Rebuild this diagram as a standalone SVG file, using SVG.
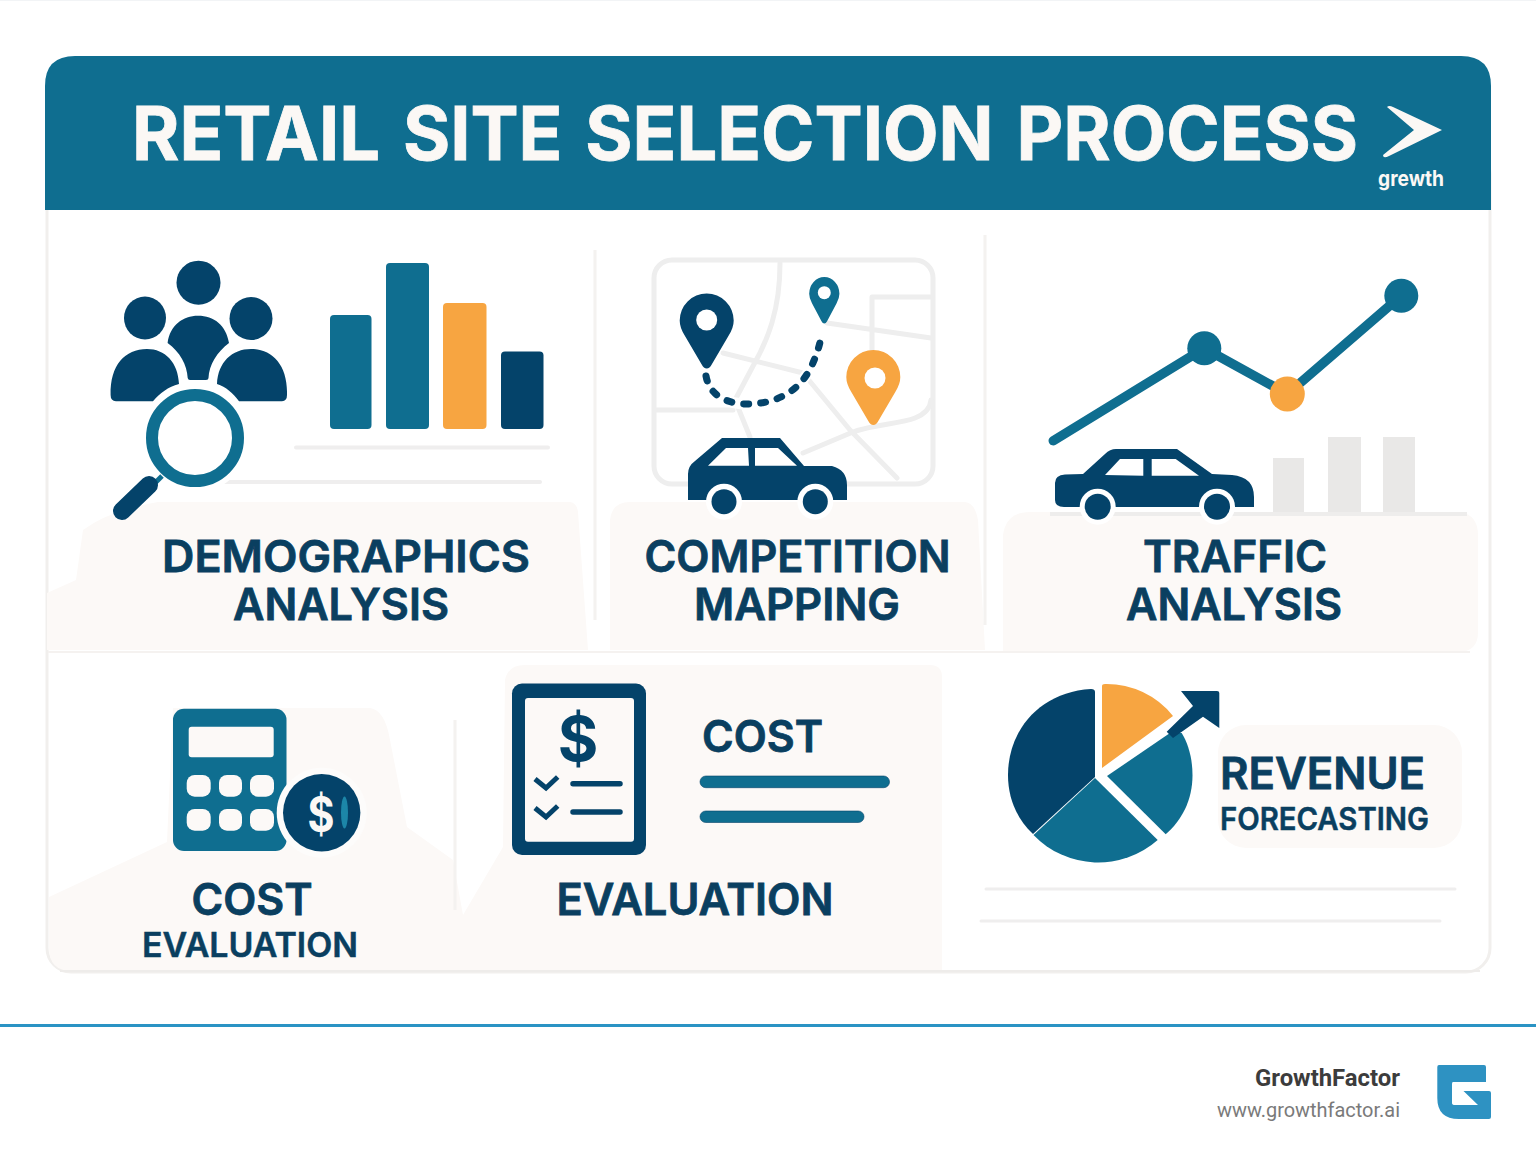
<svg xmlns="http://www.w3.org/2000/svg" width="1536" height="1154" viewBox="0 0 1536 1154">
<style>
.teal{fill:#0F6E90}.dark{fill:#04436A}.org{fill:#F7A541}.beige{fill:#FCF9F7}.wh{fill:#fff}
.road{fill:none;stroke:#EEEEEE;stroke-width:5;stroke-linejoin:round;stroke-linecap:round}
.rule{stroke:#EFEEEE;stroke-width:4;stroke-linecap:round}
.vr{stroke:#F4F2F0;stroke-width:3}
text{font-family:Inter,"Liberation Sans",sans-serif;font-weight:700}
.lab{fill:#0A3F60;font-size:44px;font-weight:600;stroke:#0A3F60;stroke-width:.8}
.sub{fill:#0A3F60;font-size:34px;font-weight:600;stroke:#0A3F60;stroke-width:.5}
</style>
<defs>
<path id="pin" d="M0 1 Q-3 1 -5 -3 L-22 -32 Q-27 -40 -27 -47 A27 27 0 0 1 27 -47 Q27 -40 22 -32 L5 -3 Q3 1 0 1Z"/>
</defs>
<rect width="1536" height="1154" fill="#fff"/>
<rect width="1536" height="1" fill="#F2F4F6"/>

<g id="card">
<rect x="47" y="150" width="1443" height="822" rx="24" fill="#fff" stroke="#F1EFED" stroke-width="3"/>
<path class="beige" d="M47 650 V593 L76 580 L83 530 Q110 510 158 502 H570 Q577 503 578 512 L588 650 Z"/>
<path class="beige" d="M610 650 V520 Q612 502 630 502 H965 Q975 503 978 520 L985 650 Z"/>
<path class="beige" d="M1003 650 V535 Q1006 512 1030 512 H1460 Q1478 515 1478 535 V632 Q1478 652 1458 652 H1003 Z"/>
<path d="M48 652 H1470" stroke="#F5F2F0" stroke-width="2"/>
<path class="beige" d="M49 897 L167 842 L173 708 H370 Q385 710 390 740 L407 827 L453 860 L463 915 L503 847 L505 680 Q508 665 525 665 H930 Q942 665 942 677 V971 H72 Q49 971 49 948 Z"/>
<rect class="beige" x="1218" y="725" width="244" height="123" rx="28"/>
<path class="vr" d="M595 250 V620 M985 235 V625 M455 720 V910" fill="none"/>
<path d="M60 971 H1480" stroke="#EEECEA" stroke-width="2" fill="none"/>
</g>

<g id="header">
<path class="teal" d="M45 210 V86 Q45 56 75 56 H1461 Q1491 56 1491 86 V210 Z"/>
<text id="title" x="132" y="160" font-size="74" fill="#FBF8F5" word-spacing="6" textLength="1226" lengthAdjust="spacingAndGlyphs" stroke="#FBF8F5" stroke-width=".8">RETAIL SITE SELECTION PROCESS</text>
<path fill="#FBF8F5" d="M1387 107 Q1389 105 1393 107 L1442 130 L1389 156 Q1383 159 1383 155 L1414 130 Z"/>
<text x="1378" y="186" font-size="21.5" fill="#FBF8F5" font-weight="600" textLength="66" lengthAdjust="spacingAndGlyphs">grewth</text>
</g>

<g id="demographics">
<ellipse class="dark" cx="198.5" cy="282.7" rx="22" ry="22"/>
<ellipse class="dark" cx="145" cy="318" rx="21" ry="21.5"/>
<ellipse class="dark" cx="251" cy="318.5" rx="21.5" ry="21.5"/>
<path class="dark" d="M187.7 378 Q188 380 190 380 H206 Q208.5 380 208.5 378 C209 365 217 352 229 343 C226 325 214 315.7 198 315.7 C183 315.7 170 325 167.6 343 C180 352 187 365 187.7 378Z"/>
<path class="dark" d="M110.6 395 C110 365 125 349 147 349 C165 349 178 362 179 384 C168 387 160 393 153 401.3 L116 401.3 Q110.6 401 110.6 395Z"/>
<path class="dark" d="M287 395 C288 365 272 349 251 349 C232 349 218 362 217 384 C226 387 233 393 239 401.3 L282 401.3 Q287 401 287 395Z"/>
<rect class="teal" x="330" y="315" width="41.5" height="114" rx="4"/>
<rect class="teal" x="386" y="263" width="43" height="166" rx="4"/>
<rect class="org" x="443" y="303" width="43.5" height="126" rx="4"/>
<rect class="dark" x="501" y="351.5" width="42.5" height="77.5" rx="4"/>
<path class="rule" d="M296 447.5 H548 M225 482 H540"/>
<circle cx="195" cy="438" r="43" fill="none" stroke="#fff" stroke-width="23"/>
<circle cx="195" cy="438" r="43" fill="#fff" stroke="#0F6E90" stroke-width="12"/>
<path d="M162 476 L152 486" stroke="#0F6E90" stroke-width="5" fill="none"/>
<path d="M149 485 L122 511" stroke="#04436A" stroke-width="18" stroke-linecap="round" fill="none"/>
<text class="lab" x="346" y="572" text-anchor="middle" textLength="368" lengthAdjust="spacingAndGlyphs">DEMOGRAPHICS</text>
<text class="lab" x="341" y="620" text-anchor="middle" textLength="216" lengthAdjust="spacingAndGlyphs">ANALYSIS</text>
</g>

<g id="competition">
<rect class="road" x="654" y="260" width="279" height="224" rx="18"/>
<path class="road" d="M780 263 C780 310 768 340 752 368 L735 400 L750 437 M657 410 H733 M723 353 L803 373 L850 430 L897 478 M803 453 L853 432 C875 424 900 424 915 418 Q930 412 931 400 M827 323 L931 338 M872 350 V297 H931"/>
<use href="#pin" class="dark" transform="translate(706.7 367.5)"/>
<circle cx="706.7" cy="320" r="10.5" fill="#fff"/>
<use href="#pin" class="teal" transform="translate(824.3 323) scale(.56 .62)"/>
<circle cx="824.3" cy="292.7" r="6.5" fill="#fff"/>
<use href="#pin" class="org" transform="translate(873.3 424)"/>
<circle cx="875" cy="378" r="10.5" fill="#fff"/>
<path d="M706 377 C710 398 730 404 748 404 C775 404 800 392 812 365 C818 352 820 343 822 333" fill="none" stroke="#fff" stroke-width="11"/>
<path d="M706 376 C710 398 730 404 748 404 C775 404 800 392 812 365 C818 352 820 343 822 333" fill="none" stroke="#04436A" stroke-width="7" stroke-linecap="round" stroke-dasharray="5 12"/>
<path class="dark" d="M688 500 V474 Q688 466 695 461 L722 438 H780 L804 466 H832 Q847 470 847 485 V500 Z"/>
<path fill="#fff" d="M708 465.7 L726 448 H748 L749 465.7Z M755 448 H778 L797 465.7 H755Z"/>
<circle cx="724" cy="501.7" r="18" fill="#fff"/><circle class="dark" cx="724" cy="501.7" r="12.5"/>
<circle cx="815.3" cy="501.7" r="18" fill="#fff"/><circle class="dark" cx="815.3" cy="501.7" r="12.5"/>
<text class="lab" x="797.5" y="572" text-anchor="middle" textLength="306" lengthAdjust="spacingAndGlyphs">COMPETITION</text>
<text class="lab" x="797" y="620" text-anchor="middle" textLength="206" lengthAdjust="spacingAndGlyphs">MAPPING</text>
</g>

<g id="traffic">
<path d="M1053.3 440.7 L1204.3 348.3 L1287.3 394 L1401.3 295.7" fill="none" stroke="#0F6E90" stroke-width="9.5" stroke-linecap="round"/>
<circle class="teal" cx="1204.3" cy="348.3" r="17"/>
<circle class="org" cx="1287.3" cy="394" r="17.5"/>
<circle class="teal" cx="1401.3" cy="295.7" r="17"/>
<g fill="#E9E8E7"><rect x="1273" y="458" width="31" height="54"/><rect x="1328" y="437" width="33" height="75"/><rect x="1383" y="437" width="32" height="75"/></g>
<path d="M1050 514 H1467" stroke="#EEEDEC" stroke-width="4"/>
<path class="dark" d="M1055 500 V483 Q1055 475 1065 474.5 L1083 474 L1105 454 Q1110 449 1116 449 H1177 L1212 474 L1232 475 Q1254 477 1254 497 V507 H1064 Q1055 507 1055 500Z"/>
<path fill="#fff" d="M1105 475 L1120 459 H1143.3 V475.7Z M1151.7 459 H1175.7 L1199 475.7 H1151.7Z"/>
<circle cx="1097.7" cy="506.7" r="18" fill="#fff"/><circle class="dark" cx="1097.7" cy="506.7" r="13"/>
<circle cx="1217" cy="506.7" r="18" fill="#fff"/><circle class="dark" cx="1217" cy="506.7" r="13"/>
<text class="lab" x="1235" y="572" text-anchor="middle" textLength="184" lengthAdjust="spacingAndGlyphs">TRAFFIC</text>
<text class="lab" x="1234" y="620" text-anchor="middle" textLength="216" lengthAdjust="spacingAndGlyphs">ANALYSIS</text>
</g>

<g id="cost">
<rect class="teal" x="173" y="708.7" width="113.5" height="142.3" rx="11"/>
<g class="beige">
<rect x="188.7" y="726.7" width="85" height="30.6" rx="3"/>
<rect x="186.7" y="775" width="24" height="21.7" rx="8"/><rect x="219" y="775" width="23" height="21.7" rx="8"/><rect x="250" y="775" width="24" height="21.7" rx="8"/>
<rect x="186.7" y="809" width="24" height="21.7" rx="8"/><rect x="219" y="809" width="23" height="21.7" rx="8"/><rect x="250" y="809" width="24" height="21.7" rx="8"/>
</g>
<circle cx="321.7" cy="812.7" r="45" fill="#FDFCFB"/>
<circle class="dark" cx="321.7" cy="812.7" r="38.7"/>
<text x="321" y="832" font-size="50" fill="#FBF8F5" text-anchor="middle" textLength="27" lengthAdjust="spacingAndGlyphs">$</text>
<ellipse cx="344.5" cy="812.5" rx="3.5" ry="16" fill="#1C86A8"/>
<text class="lab" x="252" y="915" text-anchor="middle" textLength="121" lengthAdjust="spacingAndGlyphs">COST</text>
<text class="sub" x="250" y="957" text-anchor="middle" textLength="216" lengthAdjust="spacingAndGlyphs">EVALUATION</text>
</g>

<g id="evaluation">
<rect class="dark" x="512" y="683.5" width="134" height="171.5" rx="10"/>
<rect class="beige" x="525" y="698" width="109" height="143.7" rx="3"/>
<text x="578" y="761" font-size="62" font-weight="500" fill="#04436A" text-anchor="middle">$</text>
<path d="M535 779 L546 788 L557.7 777 M535 808 L546 817 L557.7 806" fill="none" stroke="#04436A" stroke-width="5"/>
<path d="M573 783.7 H620 M573 812 H620" stroke="#04436A" stroke-width="5.5" stroke-linecap="round"/>
<text class="lab" x="762.5" y="752" text-anchor="middle" textLength="121" lengthAdjust="spacingAndGlyphs">COST</text>
<rect class="teal" x="700" y="776" width="189.5" height="11.7" rx="5.8" stroke="#04436A" stroke-width=".6"/>
<rect class="teal" x="700" y="811" width="164" height="11.5" rx="5.7" stroke="#04436A" stroke-width=".6"/>
<text class="lab" x="695" y="915" text-anchor="middle" textLength="277" lengthAdjust="spacingAndGlyphs">EVALUATION</text>
</g>

<g id="revenue">
<path class="dark" d="M1095 692 Q1095 689 1091 689 C1040 692 1008 730 1008 775 C1008 800 1018 820 1033 834 L1095 777 Z"/>
<path class="teal" d="M1095 778 L1033.5 835 A90 90 0 0 0 1157.7 840 Z"/>
<path class="teal" d="M1107 776 L1165.7 834.3 C1182 820 1192.5 800 1192.5 775 C1192.5 760 1189 745 1181.7 733 L1170 733 Z"/>
<path class="org" d="M1102 768 V686 Q1102 684 1105 684 A85 85 0 0 1 1173 716 Z"/>
<path class="dark" d="M1181 691 H1217 Q1219.3 691 1219.3 693 V728 L1203 716.7 L1173 738 L1166.7 731.7 L1193 706 Z"/>
<path d="M986 889 H1455 M981 921 H1440" stroke="#EFEEEE" stroke-width="3" stroke-linecap="round"/>
<text class="lab" x="1322.5" y="789" text-anchor="middle" textLength="205" lengthAdjust="spacingAndGlyphs">REVENUE</text>
<text class="sub" x="1324.5" y="830" style="font-size:31px" text-anchor="middle" textLength="209" lengthAdjust="spacingAndGlyphs">FORECASTING</text>
</g>

<g id="footer">
<rect y="1024" width="1536" height="3" fill="#2A93C4"/>
<text x="1400" y="1086" text-anchor="end" font-size="24" style="font-family:Roboto,sans-serif" fill="#3C3C3C" textLength="145" lengthAdjust="spacingAndGlyphs">GrowthFactor</text>
<text x="1400" y="1117" text-anchor="end" font-size="20.5" style="font-family:Roboto,sans-serif;font-weight:400" fill="#7A7A7A" textLength="183" lengthAdjust="spacingAndGlyphs">www.growthfactor.ai</text>
<path fill="#2E92C2" d="M1439 1065 H1484 Q1486 1065 1486 1067 V1082 H1453 Q1452 1082 1452 1084 V1103 Q1452 1105 1455 1105 H1478 L1463.5 1091 H1489 Q1491 1091 1491 1093 V1117 Q1491 1119 1489 1119 H1459 Q1437.3 1119 1437.3 1098 V1067 Q1437.3 1065 1439 1065Z"/>
</g>
</svg>
